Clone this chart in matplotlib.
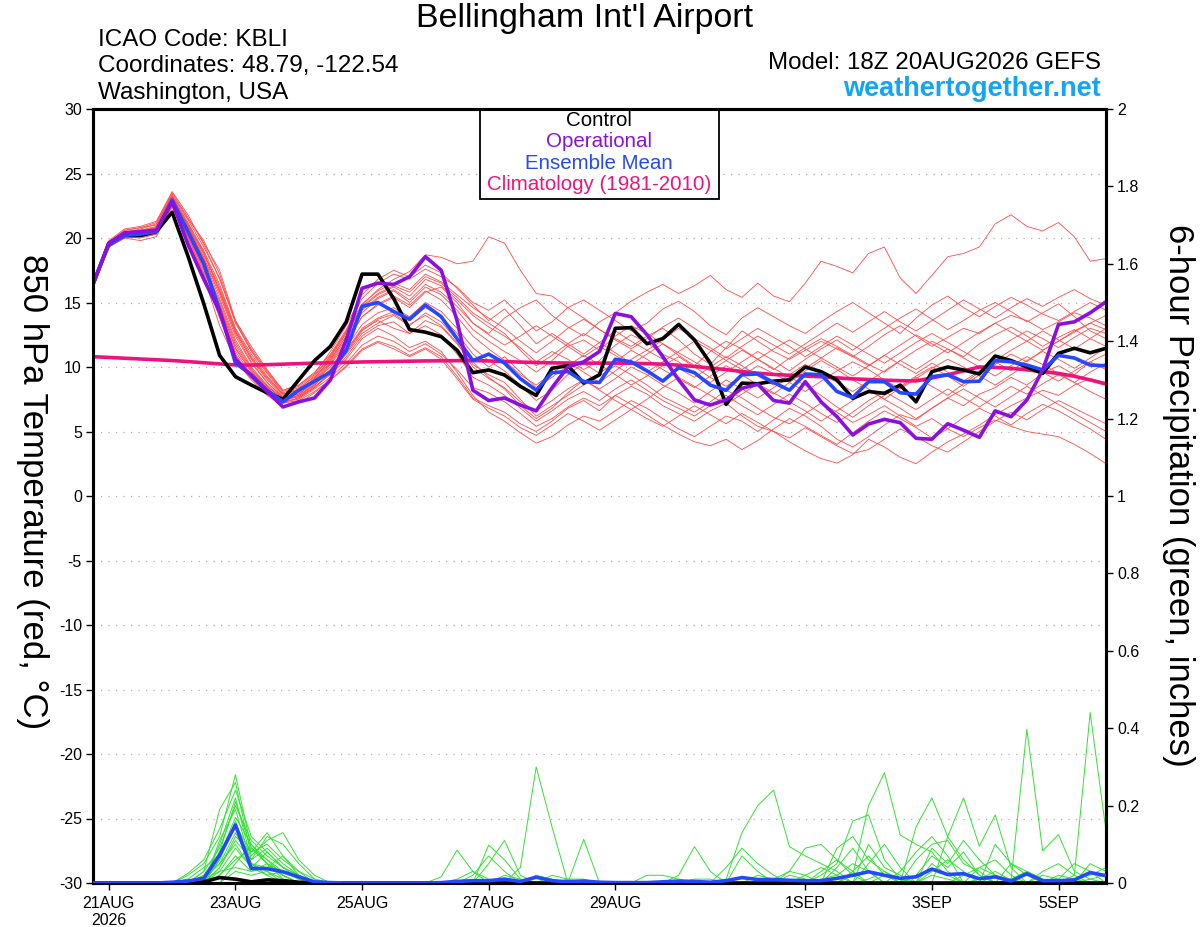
import numpy as np
import pandas as pd
import matplotlib
matplotlib.use("Agg")
import matplotlib.pyplot as plt
from matplotlib.patches import Rectangle

plt.rcParams['font.family'] = ['Liberation Sans', 'DejaVu Sans']
plt.rcParams['axes.unicode_minus'] = False

# 6-hourly steps from the 18Z 20AUG2026 run, out to 384 h
times = pd.date_range("2026-08-20 18:00", periods=65, freq="6h")

tick_dates = pd.to_datetime(["2026-08-21", "2026-08-23", "2026-08-25", "2026-08-27",
                             "2026-08-29", "2026-09-01", "2026-09-03", "2026-09-05"])
tick_labels = ["21AUG\n2026", "23AUG", "25AUG", "27AUG", "29AUG", "1SEP", "3SEP", "5SEP"]

# 850 hPa temperature (C)
control_t = [16.4,
             19.6, 20.2, 20.2, 20.5, 22.0, 18.6, 14.9, 10.9, 9.25, 8.6, 8.0, 7.5,
             9.0, 10.5, 11.6, 13.5, 17.2, 17.2, 15.3, 12.9, 12.7, 12.35, 11.3, 9.56,
             9.77, 9.38, 8.5, 7.8, 9.9, 10.1, 8.75, 9.4, 13.0, 13.05, 11.8, 12.2,
             13.3, 12.1, 10.3, 7.1, 8.75, 8.7, 8.9, 9.0, 10.0, 9.64, 9.0, 7.57,
             8.1, 7.96, 8.6, 7.3, 9.64, 10.0, 9.77, 9.46, 10.85, 10.5, 10.0, 9.5,
             11.06, 11.45, 11.1, 11.45]
operational_t = [16.4,
                 19.6, 20.4, 20.5, 20.6, 22.8, 19.5, 16.8, 14.3, 10.6, 9.3, 8.1, 6.9,
                 7.3, 7.6, 9.0, 12.1, 16.1, 16.5, 16.4, 17.0, 18.55, 17.5, 13.6, 8.2,
                 7.4, 7.6, 7.05, 6.6, 8.4, 10.0, 10.4, 11.2, 14.15, 13.9, 12.5, 10.8,
                 9.0, 7.45, 7.05, 7.45, 8.35, 8.66, 7.4, 7.2, 8.86, 7.3, 6.15, 4.73,
                 5.58, 5.94, 5.68, 4.47, 4.4, 5.6, 5.1, 4.55, 6.6, 6.15, 7.44, 9.77,
                 13.3, 13.5, 14.2, 15.06]
mean_t = [16.5,
          19.45, 20.2, 20.3, 20.5, 22.95, 20.5, 18.0, 14.4, 10.3, 9.4, 8.2, 7.3,
          8.2, 8.9, 9.6, 11.3, 14.7, 15.0, 14.3, 13.7, 14.8, 13.9, 12.2, 10.5,
          11.0, 10.3, 9.1, 8.2, 9.56, 9.65, 8.86, 8.8, 10.6, 10.4, 9.7, 8.9,
          9.95, 9.56, 8.6, 8.2, 9.4, 9.46, 8.8, 8.2, 9.46, 9.4, 8.1, 7.63,
          8.86, 8.86, 8.0, 7.9, 9.25, 9.4, 8.86, 8.9, 10.5, 10.4, 10.15, 9.77,
          10.9, 10.7, 10.15, 10.1]
climo_t = [10.80,
           10.74, 10.68, 10.62, 10.56, 10.50, 10.42, 10.33, 10.24, 10.16, 10.15, 10.18, 10.22,
           10.26, 10.30, 10.33, 10.36, 10.39, 10.41, 10.43, 10.45, 10.47, 10.48, 10.49, 10.50,
           10.47, 10.42, 10.38, 10.35, 10.32, 10.31, 10.30, 10.30, 10.30, 10.29, 10.26, 10.22,
           10.14, 10.04, 9.92, 9.80, 9.65, 9.52, 9.42, 9.36, 9.30, 9.24, 9.16, 9.08,
           9.03, 8.98, 8.94, 8.92, 9.15, 9.40, 9.70, 10.00, 9.97, 9.90, 9.78, 9.64,
           9.50, 9.28, 9.00, 8.68]

members_t = [
    [16.4, 19.6, 20.6, 20.8, 21.0, 23.4, 21.5, 19.8, 17.2, 13.5, 11.2, 9.5, 8.0, 8.4, 9.2, 10.5, 12.4,
     14.8, 16.0, 16.8, 17.4, 18.7, 18.5, 18.0, 18.2, 20.1, 19.6, 17.5, 15.7, 15.5, 14.6, 13.8, 12.9,
     12.2, 11.6, 12.4, 13.0, 12.1, 11.0, 10.2, 11.5, 12.8, 12.0, 11.2, 10.6, 11.3, 12.0, 11.4, 10.8,
     11.6, 12.5, 13.2, 12.4, 11.6, 12.3, 13.0, 12.6, 13.4, 14.0, 13.6, 12.9, 13.5, 14.2, 13.8, 13.2],
    [16.3, 19.4, 20.2, 20.4, 20.6, 22.9, 20.8, 18.5, 15.8, 12.6, 10.4, 8.8, 7.6, 7.9, 8.8, 10.2, 11.8,
     13.9, 14.8, 15.4, 14.6, 15.8, 16.2, 15.0, 13.4, 12.6, 13.8, 14.6, 15.2, 14.0, 13.1, 12.4, 13.5,
     14.2, 15.1, 15.8, 16.4, 15.7, 16.3, 17.1, 16.0, 15.4, 16.5, 15.5, 15.06, 16.5, 18.2, 17.8, 17.3,
     18.8, 19.3, 16.9, 15.7, 17.1, 18.55, 18.8, 19.3, 21.1, 21.8, 20.9, 20.55, 21.2, 20.1, 18.2, 18.4],
    [16.5, 19.5, 20.1, 20.0, 20.3, 22.5, 20.2, 17.6, 14.2, 11.0, 9.2, 8.0, 7.2, 7.6, 8.5, 9.4, 10.6,
     12.2, 13.0, 12.4, 11.5, 12.0, 11.2, 9.6, 7.8, 6.5, 5.8, 4.9, 4.1, 4.6, 5.5, 6.2, 5.8,
     6.6, 7.4, 6.8, 6.0, 5.2, 4.6, 5.4, 6.2, 5.8, 5.0, 5.9, 6.8, 6.2, 5.4, 4.4, 3.8,
     4.6, 5.5, 6.3, 5.9, 6.8, 7.6, 7.0, 7.9, 8.4, 9.2, 8.6, 9.5, 10.1, 9.4, 10.4, 11.0],
    [16.4, 19.7, 20.4, 20.3, 20.7, 23.0, 21.0, 18.2, 14.8, 11.4, 9.6, 8.3, 7.4, 7.8, 8.7, 9.8, 11.2,
     12.9, 13.6, 13.0, 12.6, 13.6, 13.1, 11.8, 10.2, 9.4, 8.8, 7.5, 6.2, 7.0, 7.8, 8.6, 9.3,
     10.1, 9.4, 8.6, 7.7, 7.1, 6.5, 7.3, 8.2, 7.6, 6.8, 6.1, 5.6, 6.4, 7.2, 6.5, 5.7,
     6.3, 7.0, 6.2, 5.4, 6.0, 5.2, 4.6, 5.3, 5.9, 5.4, 5.0, 4.8, 4.6, 4.0, 3.3, 2.5],
    [16.3, 19.3, 20.0, 19.8, 20.1, 22.4, 19.8, 17.0, 13.2, 10.5, 9.0, 7.8, 7.0, 7.2, 8.0, 9.0, 10.1,
     11.4, 12.0, 11.6, 10.9, 11.5, 10.8, 9.3, 7.6, 7.0, 6.5, 5.6, 5.0, 5.8, 6.8, 7.4, 6.6,
     7.8, 8.5, 7.9, 7.0, 6.4, 5.8, 6.6, 7.2, 6.2, 5.4, 5.0, 4.2, 3.5, 2.9, 2.55, 3.2,
     4.4, 3.8, 3.0, 2.5, 3.4, 4.2, 4.8, 5.5, 6.3, 7.0, 7.6, 8.2, 7.8, 8.6, 9.1, 8.8],
    [16.5, 19.8, 20.7, 20.9, 21.3, 23.6, 21.8, 19.5, 16.8, 13.6, 11.6, 9.8, 8.2, 8.6, 9.6, 11.0, 12.9,
     15.3, 16.5, 17.2, 16.8, 17.6, 17.0, 16.2, 15.0, 14.4, 15.2, 14.0, 12.8, 13.5, 14.6, 15.2, 14.4,
     13.6, 12.8, 13.4, 14.5, 15.1, 14.3, 13.2, 12.5, 13.8, 14.6, 13.9, 13.2, 12.6, 13.5, 14.3, 15.0,
     14.2, 13.4, 12.6, 13.8, 14.8, 15.5, 14.6, 13.9, 14.7, 15.4, 14.8, 14.1, 13.6, 14.3, 15.0, 14.4],
    [16.4, 19.5, 20.3, 20.5, 20.8, 23.1, 20.9, 18.7, 16.0, 12.8, 10.6, 9.0, 7.8, 8.1, 9.0, 10.4, 12.2,
     14.2, 15.3, 15.9, 15.0, 16.2, 15.6, 14.4, 12.9, 12.0, 11.2, 10.5, 9.6, 10.5, 11.6, 12.1, 11.3,
     12.4, 13.2, 12.6, 11.8, 10.9, 10.1, 11.2, 12.0, 11.4, 10.6, 9.8, 10.7, 11.5, 12.2, 11.6, 10.9,
     10.2, 9.6, 10.5, 11.3, 12.0, 11.4, 10.8, 11.8, 12.5, 13.1, 12.4, 11.6, 12.3, 12.9, 12.2, 13.0],
    [16.3, 19.4, 20.1, 20.2, 20.4, 22.7, 20.4, 17.9, 14.9, 11.7, 9.8, 8.5, 7.5, 7.7, 8.4, 9.6, 11.0,
     12.6, 13.4, 14.0, 13.2, 14.2, 13.5, 12.1, 10.4, 9.2, 8.3, 7.0, 6.0, 6.8, 8.0, 9.0, 8.3,
     9.1, 10.0, 9.4, 8.6, 8.0, 7.2, 8.1, 9.0, 8.3, 7.6, 8.4, 9.2, 8.6, 7.8, 6.9, 6.1,
     7.0, 7.8, 8.5, 9.3, 10.0, 9.3, 8.5, 9.4, 10.2, 11.0, 10.4, 11.3, 12.0, 12.8, 13.4, 12.9],
    [16.4, 19.6, 20.5, 20.6, 20.9, 23.2, 21.2, 19.0, 16.4, 13.0, 11.0, 9.3, 7.9, 8.2, 9.1, 10.7, 12.6,
     14.6, 15.6, 16.2, 15.5, 16.8, 16.3, 15.2, 14.0, 13.1, 12.4, 11.5, 10.4, 11.2, 10.6, 9.8, 10.5,
     11.7, 12.5, 11.9, 11.0, 10.4, 9.5, 8.8, 9.6, 10.4, 11.2, 10.5, 9.7, 10.6, 11.4, 12.1, 11.3,
     12.2, 13.0, 13.8, 14.5, 13.7, 12.9, 13.6, 14.4, 15.0, 14.3, 13.5, 14.2, 14.9, 13.9, 12.8, 12.2],
    [16.5, 19.7, 20.3, 20.4, 20.6, 22.8, 20.7, 18.3, 15.3, 12.1, 10.0, 8.6, 7.6, 7.9, 8.9, 10.0, 11.5,
     13.3, 14.2, 14.6, 13.9, 15.0, 14.3, 13.0, 11.5, 10.5, 9.7, 8.6, 7.4, 8.2, 9.4, 10.3, 9.5,
     10.4, 11.3, 10.6, 9.8, 9.1, 8.4, 9.3, 10.1, 9.4, 8.6, 7.9, 8.8, 9.7, 10.5, 9.8, 9.0,
     8.3, 7.5, 8.4, 9.2, 8.5, 7.8, 8.7, 9.6, 10.4, 9.7, 10.5, 11.2, 10.6, 9.9, 10.7, 11.5],
    [16.3, 19.3, 20.0, 20.1, 20.3, 22.6, 20.0, 17.2, 13.8, 10.8, 9.3, 8.1, 7.3, 7.5, 8.3, 9.2, 10.3,
     11.7, 12.4, 12.0, 11.2, 11.8, 11.0, 9.8, 8.4, 8.0, 7.3, 6.4, 5.4, 6.0, 6.9, 7.6, 7.0,
     7.8, 7.1, 6.3, 5.5, 4.8, 4.2, 3.9, 4.4, 3.6, 4.3, 5.2, 6.0, 5.4, 4.7, 4.0, 4.9,
     5.8, 6.6, 6.0, 5.3, 4.5, 5.2, 6.1, 6.8, 6.2, 5.5, 6.4, 7.1, 6.6, 5.9, 5.2, 4.4],
    [16.4, 19.5, 20.4, 20.7, 21.1, 23.3, 21.4, 19.3, 16.9, 13.4, 11.3, 9.6, 8.1, 8.5, 9.4, 10.9, 12.8,
     14.9, 15.9, 16.5, 16.0, 17.2, 16.6, 15.6, 14.6, 13.8, 13.0, 12.0, 11.1, 12.0, 13.0, 13.7, 12.9,
     12.1, 11.4, 12.2, 13.1, 13.8, 13.0, 12.2, 11.4, 12.2, 13.0, 12.3, 11.6, 10.8, 11.6, 12.4, 11.7,
     11.0, 10.3, 11.1, 11.9, 12.6, 11.9, 11.2, 10.5, 11.3, 12.1, 12.8, 12.2, 11.5, 12.3, 13.0, 12.6],
    [16.4, 19.6, 20.2, 20.3, 20.5, 22.7, 20.5, 18.0, 15.1, 11.9, 9.9, 8.5, 7.5, 7.8, 8.6, 9.8, 11.3,
     13.0, 13.8, 14.3, 13.6, 14.6, 13.9, 12.6, 11.0, 10.0, 10.8, 9.6, 8.4, 9.2, 10.1, 10.9, 10.2,
     9.4, 8.6, 9.3, 10.1, 10.8, 10.0, 9.2, 8.5, 9.3, 10.1, 9.5, 8.8, 8.1, 8.9, 9.7, 10.4,
     9.8, 9.0, 8.3, 9.1, 9.9, 10.6, 10.0, 9.3, 8.6, 9.4, 10.2, 9.6, 8.9, 9.7, 10.4, 9.8],
    [16.3, 19.4, 20.1, 20.1, 20.3, 22.5, 20.3, 17.5, 14.4, 11.2, 9.4, 8.2, 7.3, 7.6, 8.4, 9.5, 10.8,
     12.4, 13.2, 13.5, 12.6, 13.2, 12.5, 11.0, 9.2, 8.6, 7.8, 6.8, 5.8, 6.6, 7.5, 8.1, 7.4,
     8.3, 9.0, 8.2, 7.4, 6.8, 6.2, 7.0, 7.8, 7.0, 6.3, 7.1, 7.9, 7.2, 6.4, 5.7, 6.5,
     7.4, 8.1, 7.4, 6.7, 7.5, 8.3, 7.6, 6.9, 7.7, 8.5, 7.9, 8.7, 9.4, 8.8, 8.1, 7.5],
    [16.5, 19.7, 20.6, 20.8, 21.2, 23.5, 21.6, 19.6, 17.5, 13.6, 11.4, 9.7, 8.2, 8.6, 9.5, 11.2, 13.2,
     15.6, 16.8, 17.5, 17.0, 17.9, 17.3, 16.1, 14.8, 13.6, 14.5, 13.2, 11.8, 12.6, 11.8, 11.0, 11.9,
     12.8, 12.0, 11.3, 12.1, 13.0, 12.2, 11.5, 10.7, 11.6, 12.4, 11.7, 11.0, 11.8, 12.6, 13.4, 12.7,
     13.5, 14.3, 13.5, 12.8, 13.6, 14.4, 15.2, 14.5, 13.8, 14.6, 15.3, 14.7, 15.4, 16.0, 15.3, 14.8],
    [16.4, 19.5, 20.3, 20.4, 20.7, 23.0, 20.8, 18.4, 15.6, 12.4, 10.3, 8.8, 7.7, 8.0, 8.9, 10.3, 12.0,
     13.9, 14.9, 15.5, 14.8, 15.9, 15.2, 13.9, 12.4, 11.4, 10.5, 9.4, 8.6, 9.5, 10.4, 9.6, 8.8,
     9.7, 10.6, 11.3, 10.6, 9.9, 9.2, 10.0, 10.8, 10.1, 9.3, 8.6, 9.4, 10.2, 9.5, 8.8, 8.1,
     8.9, 9.7, 10.5, 9.8, 10.6, 11.4, 10.7, 10.0, 9.3, 10.1, 10.8, 10.2, 9.5, 8.8, 9.6, 10.3],
    [16.3, 19.4, 20.2, 20.2, 20.4, 22.6, 20.1, 17.3, 13.9, 10.9, 9.3, 8.1, 7.2, 7.4, 8.1, 9.0, 10.0,
     11.3, 11.9, 11.4, 10.8, 11.4, 10.6, 9.1, 7.5, 6.8, 6.2, 5.3, 4.7, 5.5, 6.4, 5.8, 5.1,
     5.9, 6.7, 6.0, 5.4, 6.2, 7.0, 6.3, 5.6, 6.4, 5.7, 5.0, 4.5, 5.3, 4.6, 3.9, 3.3,
     3.6, 4.4, 5.2, 4.6, 3.9, 3.4, 4.2, 5.0, 5.8, 6.5, 5.9, 6.7, 7.4, 6.8, 6.2, 5.6],
    [16.4, 19.6, 20.4, 20.5, 20.8, 23.1, 21.0, 18.8, 16.2, 12.9, 10.8, 9.2, 7.9, 8.2, 9.1, 10.6, 12.4,
     14.4, 15.4, 16.0, 15.2, 16.4, 15.8, 14.7, 13.4, 12.5, 11.7, 12.4, 13.2, 12.4, 11.6, 10.8, 11.6,
     10.9, 10.2, 11.0, 11.8, 11.1, 10.4, 9.7, 10.5, 11.3, 10.6, 9.9, 9.2, 9.9, 10.7, 11.5, 10.8,
     10.1, 10.9, 11.7, 12.5, 11.8, 11.1, 11.9, 12.7, 13.4, 12.7, 12.0, 12.8, 12.1, 11.4, 12.2, 11.6],
    [16.5, 19.5, 20.2, 20.3, 20.5, 22.8, 20.6, 18.1, 14.6, 11.5, 9.7, 8.4, 7.4, 7.7, 8.6, 9.7, 11.1,
     12.8, 13.7, 14.1, 13.3, 14.0, 13.2, 11.9, 10.0, 9.1, 8.4, 7.3, 6.6, 7.4, 8.3, 9.0, 8.2,
     7.4, 6.7, 7.5, 8.4, 9.2, 8.5, 7.8, 7.1, 7.9, 8.7, 8.0, 7.3, 6.6, 5.8, 6.6, 7.4,
     8.2, 7.5, 6.8, 6.0, 6.8, 7.6, 8.3, 7.6, 6.9, 7.7, 8.5, 7.8, 7.1, 6.4, 5.7, 5.0],
    [16.4, 19.7, 20.5, 20.6, 20.8, 23.2, 21.1, 18.9, 15.9, 12.7, 10.7, 9.1, 7.9, 8.3, 9.3, 10.8, 12.7,
     14.7, 15.7, 16.3, 15.8, 17.0, 16.5, 15.4, 14.2, 13.4, 12.6, 11.3, 10.1, 10.9, 11.8, 12.6, 11.9,
     11.1, 10.3, 9.6, 10.4, 11.2, 12.0, 11.3, 10.5, 9.8, 10.6, 11.4, 12.1, 11.4, 10.7, 10.0, 9.3,
     10.1, 10.9, 10.2, 9.5, 10.3, 9.6, 8.9, 9.7, 10.5, 11.3, 12.0, 11.3, 12.0, 12.7, 13.4, 14.0],
]

# 6-hour precipitation (inches)
mean_p = [0, 0, 0, 0, 0, 0.002, 0.005, 0.012, 0.072, 0.15, 0.038, 0.037, 0.029,
          0.016, 0.003, 0.001, 0, 0, 0, 0, 0, 0, 0.001, 0.004, 0.006,
          0.006, 0.01, 0.004, 0.015, 0.006, 0.003, 0.005, 0.002, 0.001, 0.001, 0.001, 0.003,
          0.005, 0.004, 0.002, 0.006, 0.014, 0.009, 0.009, 0.007, 0.006, 0.006, 0.012, 0.02,
          0.029, 0.02, 0.012, 0.016, 0.036, 0.022, 0.024, 0.011, 0.016, 0.005, 0.024, 0.006,
          0.006, 0.008, 0.027, 0.019]
control_p = {7: 0.003, 8: 0.014, 9: 0.01, 10: 0.003, 11: 0.008, 12: 0.006, 13: 0.002}

# ensemble members, only the non-zero 6 h totals (step index: inches)
members_p = [
    {6: 0.02, 7: 0.05, 8: 0.12, 9: 0.28, 10: 0.09, 11: 0.05, 12: 0.03, 13: 0.01,
     40: 0.01, 41: 0.13, 42: 0.2, 43: 0.24, 44: 0.094, 45: 0.07, 46: 0.05, 47: 0.03},
    {7: 0.03, 8: 0.19, 9: 0.26, 10: 0.07, 11: 0.11, 12: 0.13, 13: 0.06, 14: 0.02,
     25: 0.05, 26: 0.11, 27: 0.02, 48: 0.02, 49: 0.2, 50: 0.285, 51: 0.124, 52: 0.1, 53: 0.08, 54: 0.03},
    {6: 0.025, 7: 0.06, 8: 0.14, 9: 0.24, 10: 0.12, 11: 0.08, 12: 0.04, 13: 0.02,
     27: 0.04, 28: 0.30, 29: 0.145, 31: 0.113, 56: 0.01, 57: 0.03, 58: 0.007,
     59: 0.397, 60: 0.083, 61: 0.125, 62: 0.03, 63: 0.01},
    {8: 0.10, 9: 0.22, 10: 0.06, 11: 0.12, 12: 0.10, 13: 0.05, 14: 0.01,
     22: 0.016, 23: 0.085, 24: 0.03, 52: 0.145, 53: 0.22, 54: 0.12, 55: 0.06, 56: 0.02},
    {7: 0.02, 8: 0.08, 9: 0.21, 10: 0.09, 11: 0.06, 12: 0.02, 37: 0.02, 38: 0.094, 39: 0.03,
     54: 0.12, 55: 0.22, 56: 0.095, 57: 0.176, 58: 0.04, 62: 0.02, 63: 0.44, 64: 0.135},
    {8: 0.11, 9: 0.19, 10: 0.05, 11: 0.04, 12: 0.07, 13: 0.03, 25: 0.098, 26: 0.06, 27: 0.01,
     46: 0.02, 47: 0.05, 48: 0.16, 49: 0.176, 50: 0.06, 51: 0.01},
    {6: 0.01, 7: 0.04, 8: 0.07, 9: 0.17, 10: 0.1, 11: 0.05, 12: 0.01, 40: 0.04, 41: 0.09,
     42: 0.05, 43: 0.02, 52: 0.06, 53: 0.1, 54: 0.11, 55: 0.05, 56: 0.03},
    {8: 0.06, 9: 0.15, 10: 0.08, 11: 0.13, 12: 0.07, 13: 0.02, 24: 0.02, 25: 0.07, 26: 0.03,
     44: 0.03, 45: 0.09, 46: 0.1, 47: 0.06, 48: 0.02, 57: 0.1, 58: 0.05, 59: 0.02},
    {7: 0.02, 8: 0.05, 9: 0.13, 10: 0.05, 11: 0.03, 29: 0.02, 30: 0.01, 41: 0.07, 42: 0.03,
     49: 0.05, 50: 0.1, 51: 0.04, 53: 0.09, 54: 0.05, 55: 0.11, 56: 0.06, 57: 0.02, 63: 0.05, 64: 0.03},
    {8: 0.04, 9: 0.11, 10: 0.06, 11: 0.09, 12: 0.05, 13: 0.02, 35: 0.02, 36: 0.02, 37: 0.01,
     47: 0.09, 48: 0.12, 49: 0.06, 50: 0.03, 58: 0.05, 59: 0.03, 60: 0.01},
    {7: 0.01, 8: 0.03, 9: 0.09, 10: 0.04, 11: 0.02, 12: 0.03, 13: 0.01, 45: 0.02, 46: 0.04,
     47: 0.02, 51: 0.03, 52: 0.08, 53: 0.12, 54: 0.07, 60: 0.02, 61: 0.01, 62: 0.05, 63: 0.03},
    {8: 0.02, 9: 0.07, 10: 0.03, 11: 0.05, 12: 0.02, 26: 0.02, 27: 0.01, 43: 0.01, 44: 0.03,
     45: 0.02, 49: 0.1, 50: 0.04, 51: 0.02, 56: 0.04, 57: 0.06, 58: 0.02},
    {9: 0.05, 10: 0.1, 11: 0.06, 12: 0.03, 13: 0.01, 30: 0.01, 31: 0.01, 47: 0.04, 48: 0.09,
     49: 0.03, 53: 0.05, 54: 0.02, 62: 0.01, 63: 0.02, 64: 0.04},
    {8: 0.03, 9: 0.04, 10: 0.03, 11: 0.04, 12: 0.02, 38: 0.01, 39: 0.01, 52: 0.02, 53: 0.07,
     54: 0.04, 55: 0.08, 56: 0.02},
    {7: 0.03, 8: 0.09, 9: 0.2, 10: 0.11, 11: 0.07, 12: 0.04, 13: 0.01, 46: 0.01, 47: 0.02,
     48: 0.05, 49: 0.03, 60: 0.03, 61: 0.05, 62: 0.02},
    {8: 0.04, 9: 0.12, 10: 0.08, 11: 0.1, 12: 0.06, 13: 0.03, 14: 0.01, 42: 0.02, 43: 0.01,
     50: 0.02, 51: 0.01, 53: 0.03, 54: 0.06, 55: 0.03},
    {6: 0.01, 8: 0.06, 9: 0.16, 10: 0.05, 11: 0.02, 23: 0.01, 24: 0.03, 25: 0.01,
     48: 0.03, 49: 0.07, 50: 0.02, 58: 0.01, 59: 0.03, 60: 0.01},
    {9: 0.03, 10: 0.02, 11: 0.03, 12: 0.01, 44: 0.02, 45: 0.01, 53: 0.02, 54: 0.01,
     57: 0.02, 58: 0.01, 63: 0.01, 64: 0.02},
    {8: 0.02, 9: 0.06, 10: 0.09, 11: 0.05, 12: 0.02, 28: 0.02, 29: 0.01, 46: 0.03, 47: 0.06,
     48: 0.03, 55: 0.02, 56: 0.04, 57: 0.02},
    {7: 0.01, 8: 0.05, 9: 0.1, 10: 0.04, 11: 0.08, 12: 0.04, 13: 0.02, 49: 0.01, 50: 0.03,
     51: 0.01, 61: 0.02, 62: 0.01},
]


def fill_steps(d):
    arr = np.zeros(len(times))
    for k, v in d.items():
        arr[k] = v
    return arr


fig = plt.figure(figsize=(12, 9.27), dpi=100)
ax = fig.add_axes([93 / 1200, 1 - 883 / 927, 1013 / 1200, 774 / 927])
ax2 = ax.twinx()

# temperature side
for m in members_t:
    ax.plot(times, m, color="#ff4a4a", lw=0.6, zorder=2)
ax.plot(times, climo_t, color="#f0127c", lw=2.6, zorder=3)
ax.plot(times, control_t, color="black", lw=2.6, zorder=4)
ax.plot(times, mean_t, color="#2448ff", lw=2.6, zorder=5)
ax.plot(times, operational_t, color="#8a10e0", lw=2.6, zorder=6)

ax.set_ylim(-30, 30)
ax.set_yticks(range(-30, 31, 5))
ax.set_yticklabels([str(v) for v in range(-30, 31, 5)])
ax.set_xlim(times[0], times[-1])
ax.set_xticks(tick_dates)
ax.set_xticklabels(tick_labels)
for v in range(-25, 30, 5):
    ax.axhline(v, color="#b0b0b0", lw=0.9, ls=(0, (1, 5)), zorder=1)

# precipitation side
for d in members_p:
    ax2.plot(times, fill_steps(d), color="#33e033", lw=0.7, zorder=2)
ax2.plot(times, fill_steps(control_p), color="black", lw=2.6, zorder=3)
ax2.plot(times, mean_p, color="#2448ff", lw=2.6, zorder=4)
ax2.set_ylim(0, 2)
p_ticks = [0, 0.2, 0.4, 0.6, 0.8, 1, 1.2, 1.4, 1.6, 1.8, 2]
ax2.set_yticks(p_ticks)
ax2.set_yticklabels([f"{v:g}" for v in p_ticks])

for a in (ax, ax2):
    for s in a.spines.values():
        s.set_linewidth(2.2)
    a.tick_params(direction="out", length=5, width=1, labelsize=11.5, pad=3)
ax.tick_params(axis="x", labelsize=11.5, pad=4)

# legend box
ax.add_patch(Rectangle((0.382, 0.884), 0.2355, 0.116, transform=ax.transAxes,
                       facecolor="white", edgecolor="black", lw=1.3, zorder=10))
leg = [("Control", "black"), ("Operational", "#8a10e0"),
       ("Ensemble Mean", "#2448ff"), ("Climatology (1981-2010)", "#f0127c")]
for k, (txt, col) in enumerate(leg):
    ax.text(0.4995, 0.9855 - k * 0.0277, txt, color=col, fontsize=14.8,
            ha="center", va="center", transform=ax.transAxes, zorder=11)

# header text
fig.text(585 / 1200, 1 - 18 / 927, "Bellingham Int'l Airport", ha="center", va="center", fontsize=24.5)
fig.text(98 / 1200, 1 - 40 / 927, "ICAO Code: KBLI", va="center", fontsize=17.5)
fig.text(98 / 1200, 1 - 66 / 927, "Coordinates: 48.79, -122.54", va="center", fontsize=17.5)
fig.text(98 / 1200, 1 - 93 / 927, "Washington, USA", va="center", fontsize=17.5)
fig.text(1101 / 1200, 1 - 63 / 927, "Model: 18Z 20AUG2026 GEFS", ha="right", va="center", fontsize=17.4)
fig.text(1101 / 1200, 1 - 89 / 927, "weathertogether.net", ha="right", va="center",
         fontsize=19.5, fontweight="bold", color="#12a4f5")

fig.text(32 / 1200, 1 - 492 / 927, "850 hPa Temperature (red, °C)", rotation=270,
         ha="center", va="center", fontsize=25)
fig.text(1178 / 1200, 1 - 495 / 927, "6-hour Precipitation (green, inches)", rotation=270,
         ha="center", va="center", fontsize=25)

fig.savefig("out.png", dpi=100)
